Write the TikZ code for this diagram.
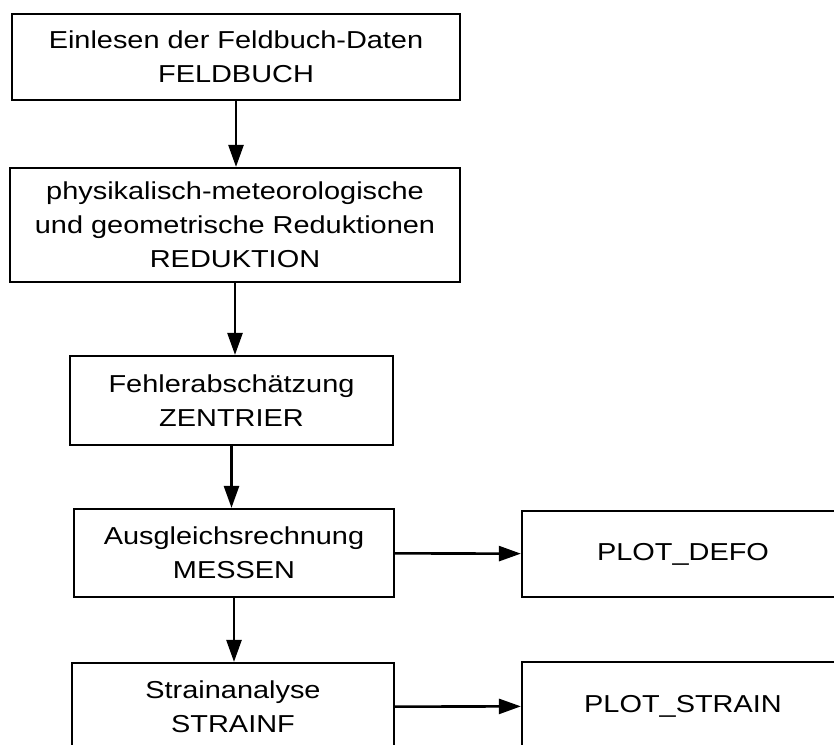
\documentclass[tikz,border=0pt]{standalone}
\usepackage{fontspec}
\setmainfont{Liberation Sans}[FakeStretch=1.18]
\usetikzlibrary{arrows.meta}

\tikzset{
	box/.style={draw, line width=2.2pt, align=center, inner sep=0pt, font=\fontsize{24.5}{34}\selectfont},
	flow/.style={line width=2.6pt, -{Triangle[length=22pt,width=15pt]}}
}

\begin{document}
\begin{tikzpicture}[x=1pt,y=-1pt]
	\useasboundingbox (0,0) rectangle (834,744);
	\clip (0,0) rectangle (834,744);
	
	% Main chain
	\node[box, minimum width=448pt, minimum height=86pt] (feld) at (236,57) {Einlesen der Feldbuch-Daten\\FELDBUCH};
	\node[box, minimum width=450pt, minimum height=114pt] (red) at (235,225) {physikalisch-meteorologische\\und geometrische Reduktionen\\REDUKTION};
	\node[box, minimum width=323pt, minimum height=89pt] (zent) at (231.5,400.5) {Fehlerabschätzung\\ZENTRIER};
	\node[box, minimum width=320pt, minimum height=88pt] (mess) at (234,553) {Ausgleichsrechnung\\MESSEN};
	\node[box, minimum width=322pt, minimum height=88pt] (strf) at (233,707) {Strainanalyse\\STRAINF};
	
	% Plots
	\node[box, minimum width=322pt, minimum height=86pt] (defo) at (683,554) {PLOT\_DEFO};
	\node[box, minimum width=322pt, minimum height=88pt] (pstr) at (683,706) {PLOT\_STRAIN};
	
	% Arrows
	\draw[flow] (feld.south) -- (feld.south |- red.north);
	\draw[flow] (red.south) -- (red.south |- zent.north);
	\draw[flow] (zent.south) -- (zent.south |- mess.north);
	\draw[flow] (mess.south) -- (mess.south |- strf.north);
	\draw[flow] (mess) -- (defo);
	\draw[flow] (strf) -- (pstr);
	
\end{tikzpicture}
\end{document}
